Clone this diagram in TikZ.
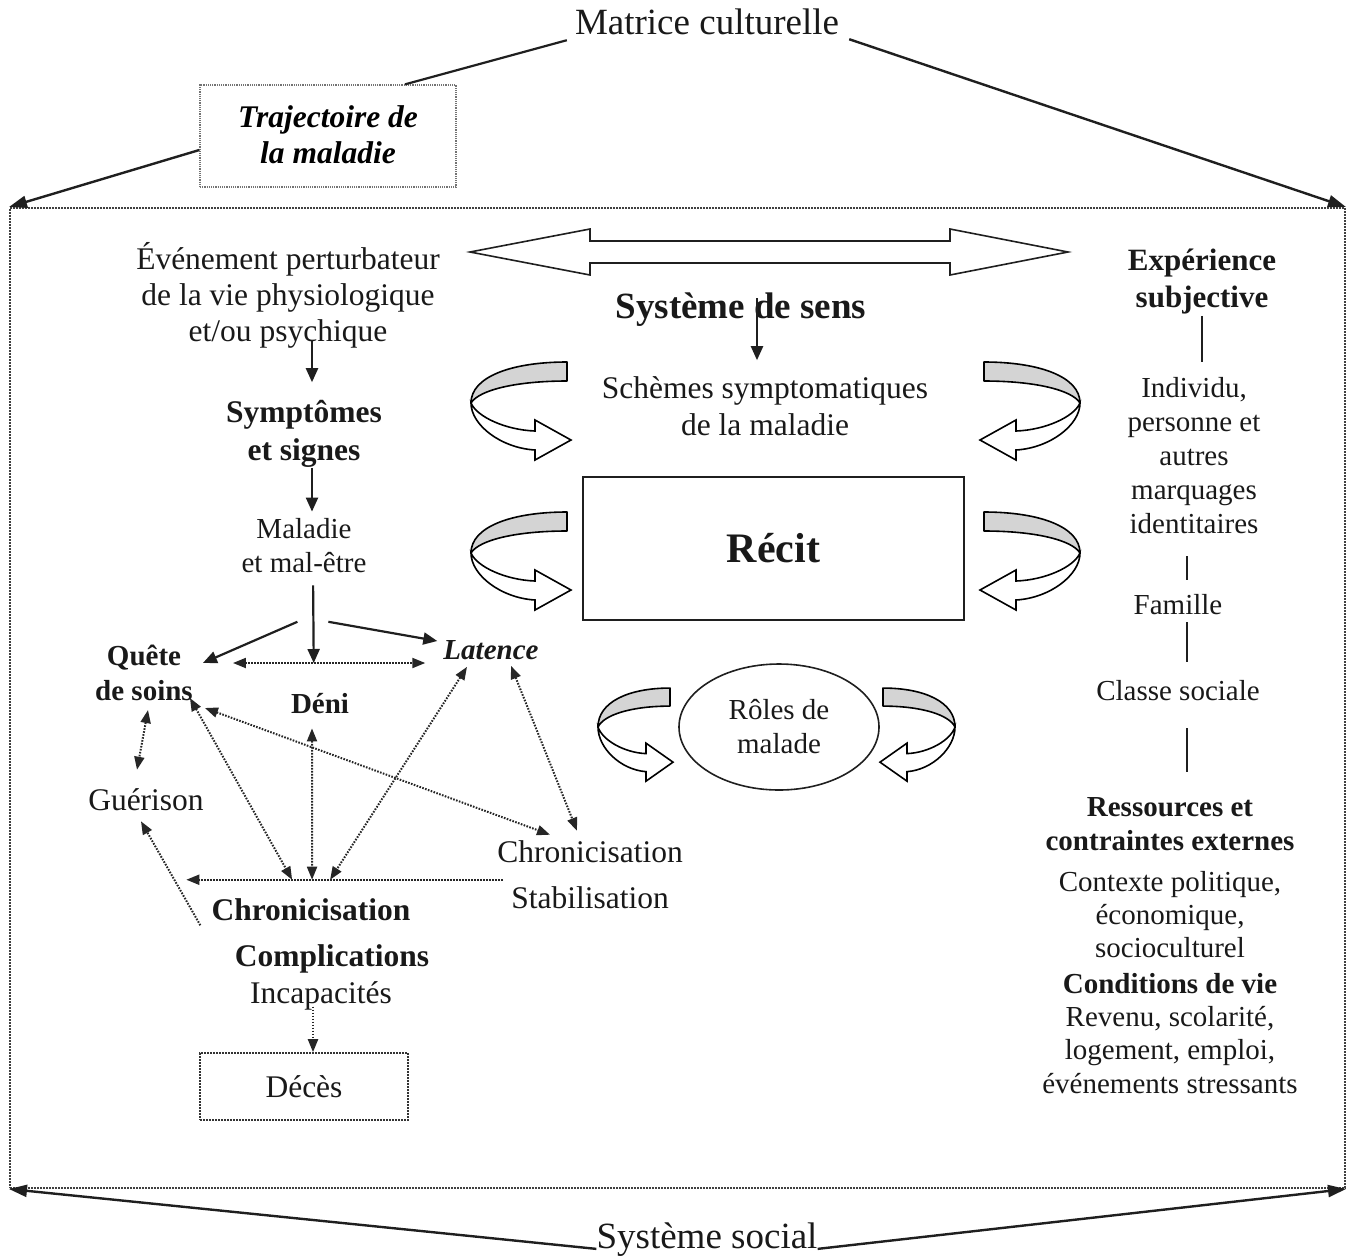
\documentclass[tikz,border=0pt]{standalone}
\usepackage{fontspec}
\setmainfont{Liberation Serif}
\usetikzlibrary{arrows.meta,shapes.geometric}
\newcommand{\fsz}[2]{\fontsize{#1}{#2}\selectfont}
\begin{document}
\begin{tikzpicture}[x=1pt,y=-1pt,
  txt/.style={inner sep=0pt, align=center, text=black!90},
  solidarr/.style={line width=2.2pt, draw=black!88, -{Triangle[length=14pt,width=12pt]}},
  plainln/.style={line width=2.2pt, draw=black!88},
  dotln/.style={line width=2pt, dash pattern=on 1.6pt off 1.4pt},
  dotarr/.style={dotln, draw=black!85, {Triangle[length=13pt,width=10pt]}-{Triangle[length=13pt,width=10pt]}},
  dotarrone/.style={dotln, draw=black!85, -{Triangle[length=13pt,width=10pt]}},
  cornerarr/.style={line width=2.4pt, draw=black!88, -{Triangle[length=18pt,width=12pt]}},
  ribarrow/.pic={
    \draw[line width=1.6pt, fill=black!17, line join=round]
      (96,-41) .. controls (40,-41) and (0,-26) .. (0,0)
      .. controls (8,-13) and (45,-22) .. (96,-22) -- cycle;
    \draw[line width=1.6pt, fill=white, line join=miter]
      (0,0) .. controls (0,22) and (30,45) .. (64,47) -- (64,57) -- (100,37)
      -- (64,17) -- (64,28) .. controls (35,27) and (6,14) .. (0,0) -- cycle;
  }
]
\useasboundingbox (0,0) rectangle (1352,1259);

% outer frame and titles
\node[draw=black!75, dotln, minimum width=1335pt, minimum height=980pt, inner sep=0pt] (frame) at (677.5,698) {};
\node[txt,font=\fsz{37}{44}] (matrice) at (707,22) {Matrice culturelle};
\node[txt,font=\fsz{37}{44}] (social) at (707,1240) {Système social};
\node[draw=black!55, dash pattern=on 1.2pt off 1pt, line width=1.3pt, minimum width=256pt, minimum height=102pt,
      inner sep=0pt, align=center, font=\fsz{31.5}{36}\bfseries\itshape] (traj) at (328,136) {\raisebox{3pt}{Trajectoire de}\\\raisebox{3pt}{la maladie}};

\draw[plainln] ([shift={(-8,5)}]matrice.south west) -- ([shift={(77,0)}]traj.north);
\draw[cornerarr] ([shift={(0,14)}]traj.west) -- (frame.north west);
\draw[cornerarr] ([shift={(10,4)}]matrice.south east) -- (frame.north east);
\draw[cornerarr] (social.base west) -- (frame.south west);
\draw[cornerarr] (social.base east) -- (frame.south east);

% big hollow double arrow
\draw[line width=1.6pt, line join=miter, draw=black!88] (470,252) -- (590,229) -- (590,241) -- (950,241) -- (950,229)
  -- (1068,252) -- (950,275) -- (950,263) -- (590,263) -- (590,275) -- cycle;

% centre
\node[txt,font=\fsz{37}{44}\bfseries] (sens) at (741,310) {Système de sens};
\node[txt,font=\fsz{31.5}{37}] (schemes) at (765,406) {Schèmes symptomatiques\\de la maladie};
\draw[solidarr, shorten >=16pt] ([shift={(16,-12)}]sens.center) -- ([shift={(-8,0)}]schemes.north);
\node[draw=black!88, line width=1.6pt, minimum width=381pt, minimum height=143pt, font=\fsz{42}{48}\bfseries, text=black!90] (recit) at (773.5,548.5) {Récit};
\node[draw=black!88, ellipse, line width=1.6pt, minimum width=200pt, minimum height=126pt, inner sep=0pt, align=center,
      font=\fsz{29}{34}, text=black!90] (roles) at (779,727) {Rôles de\\malade};

\pic at (471,403) {ribarrow};
\pic[xscale=-1] at (1080,403) {ribarrow};
\pic at (471,553) {ribarrow};
\pic[xscale=-1] at (1080,553) {ribarrow};
\pic[xscale=0.75,yscale=0.95] at (598,727) {ribarrow};
\pic[xscale=-0.75,yscale=0.95] at (955,727) {ribarrow};

% left column
\node[txt,font=\fsz{31.5}{36}] (evt) at (288,295) {Événement perturbateur\\de la vie physiologique\\et/ou psychique};
\node[txt,font=\fsz{31.5}{38}\bfseries] (symp) at (304,434) {Symptômes\\et signes};
\node[txt,font=\fsz{29}{34}] (mal) at (304,546) {Maladie\\et mal-être};
\node[txt,font=\fsz{29}{35}\bfseries] (quete) at (144,673) {Quête\\de soins};
\node[txt,font=\fsz{29}{34}\bfseries\itshape] (latence) at (491,650) {Latence};
\node[txt,font=\fsz{29}{34}\bfseries] (deni) at (320,704) {Déni};
\node[txt,font=\fsz{31.5}{36}] (guer) at (146,800) {Guérison};
\node[txt,font=\fsz{31.5}{36}] (chronr) at (590,852) {Chronicisation};
\node[txt,font=\fsz{31.5}{36}] (stab) at (590,898) {Stabilisation};
\node[txt,font=\fsz{31.5}{36}\bfseries] (chronb) at (311,910) {Chronicisation};
\node[txt,font=\fsz{31.5}{36}\bfseries] (compl) at (332,959) {Complications};
\node[txt,font=\fsz{31.5}{36}] (incap) at (321,996) {Incapacités};
\node[draw=black!80, dotln, line width=1.6pt, minimum width=208pt, minimum height=67pt, font=\fsz{31.5}{36}, text=black!90] (deces) at (304,1086.5) {Décès};

\draw[solidarr, shorten <=-8pt, shorten >=18pt] ([shift={(24,0)}]evt.south) -- ([shift={(8,0)}]symp.north);
\draw[solidarr, shorten <=0pt, shorten >=7pt] ([shift={(8,0)}]symp.south) -- ([shift={(8,0)}]mal.north);
\draw[dotarr] ([shift={(40,-10)}]quete.east) -- coordinate[pos=0.42] (dmid) ([shift={(-18,13)}]latence.west);
\draw[solidarr, shorten <=12pt] ([shift={(9,0)}]mal.south) -- coordinate[pos=0.54] (fan) (dmid);
\draw[solidarr] ([shift={(-16,0)}]fan) -- ([shift={(10,18)}]quete.north east);
\draw[solidarr] ([shift={(15,0)}]fan) -- ([shift={(-6,-9)}]latence.west);

\draw[dotarrone] ([shift={(-8,-7)}]stab.north west) -- coordinate[pos=0.666] (h1) coordinate[pos=0.603] (h2)
  coordinate[pos=0.546] (h3) ([shift={(-25,-19)}]chronb.north west);

\draw[dotarr] ([shift={(4,9)}]quete.south) -- ([shift={(-9,-19)}]guer.north);
\draw[dotarr] ([shift={(-3,25)}]quete.east) -- (h1);
\draw[dotarr] ([shift={(12,35)}]quete.east) -- ([shift={(-40,-6)}]chronr.north);
\draw[dotarr] ([shift={(-8,14)}]deni.south) -- (h2);
\draw[dotarr] ([shift={(-24,7)}]latence.south) -- (h3);
\draw[dotarr] ([shift={(20,6)}]latence.south) -- ([shift={(-13,-10)}]chronr.north);
\draw[dotarrone] ([shift={(-11,4)}]chronb.south west) -- ([shift={(-5,10)}]guer.south);
\draw[dotarrone] ([shift={(-8,-4)}]incap.south) -- ([shift={(9,0)}]deces.north);

% right column
\node[txt,font=\fsz{31}{37}\bfseries] (exp) at (1202,282) {Expérience\\subjective};
\node[txt,font=\fsz{29}{34}] (indiv) at (1194,456) {Individu,\\personne et\\autres\\marquages\\identitaires};
\node[txt,font=\fsz{29}{34}] (famille) at (1178,605) {Famille};
\node[txt,font=\fsz{29}{34}] (classe) at (1178,691) {Classe sociale};
\node[txt,font=\fsz{29}{34}\bfseries] (ress) at (1170,824) {Ressources et\\contraintes externes};
\node[txt,font=\fsz{29}{33}] (ctx) at (1170,915) {Contexte politique,\\économique,\\socioculturel};
\node[txt,font=\fsz{29}{34}\bfseries] (cond) at (1170,984) {Conditions de vie};
\node[txt,font=\fsz{29}{33.5}] (rev) at (1170,1050) {Revenu, scolarité,\\logement, emploi,\\événements stressants};

\draw[plainln, shorten <=1pt, shorten >=16pt] (exp.south) -- ([shift={(8,0)}]indiv.north);
\draw[plainln, shorten <=22pt, shorten >=15pt] ([shift={(-7,0)}]indiv.south) -- ([shift={(9,0)}]famille.north);
\draw[plainln, shorten <=7pt, shorten >=19pt] ([shift={(9,0)}]famille.south) -- ([shift={(9,0)}]classe.north);
\draw[plainln, shorten <=27pt, shorten >=25pt] ([shift={(9,0)}]classe.south) -- ([shift={(17,0)}]ress.north);
\end{tikzpicture}
\end{document}
